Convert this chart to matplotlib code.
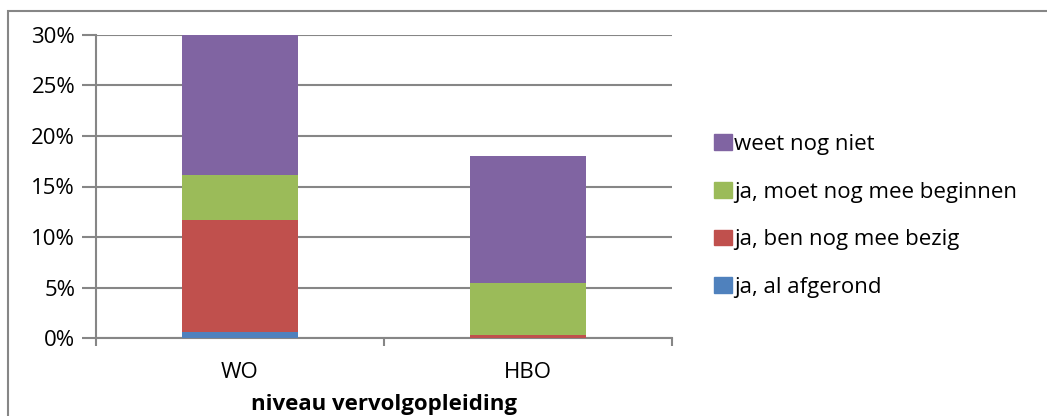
import numpy as np
import matplotlib
matplotlib.use("Agg")
import matplotlib.pyplot as plt
from matplotlib.patches import Rectangle

plt.rcParams['font.family'] = ['Open Sans', 'DejaVu Sans']

categories = ['WO', 'HBO']
series = ['ja, al afgerond', 'ja, ben nog mee bezig', 'ja, moet nog mee beginnen', 'weet nog niet']
afgerond = [0.65, 0.0]
bezig = [11.0, 0.3]
beginnen = [4.5, 5.2]
weet_niet = [13.85, 12.5]
kleuren = ['#4F81BD', '#C0504D', '#9BBB59', '#8064A2']

W, H = 1047, 416
fs = 16
fig = plt.figure(figsize=(W / 100, H / 100), dpi=100)
ax = fig.add_axes([96 / W, 1 - 338.3 / H, (672 - 96) / W, (338.3 - 34.7) / H])

x = np.arange(len(categories))
bottom = np.zeros(len(categories))
for vals, kleur, naam in zip([afgerond, bezig, beginnen, weet_niet], kleuren, series):
    ax.bar(x, vals, 0.403, bottom=bottom, color=kleur, label=naam, zorder=3)
    bottom = bottom + np.array(vals)

ax.set_xlim(-0.5, 1.5)
ax.set_ylim(0, 30)
ax.set_yticks(np.arange(0, 31, 5))
ax.set_yticklabels([f'{v}%' for v in range(0, 31, 5)], fontsize=fs)
ax.yaxis.grid(True, color='#868686', linewidth=1.5, zorder=0)
ax.set_xticks(x)
ax.set_xticklabels(categories, fontsize=fs)
ax.set_xticks([-0.5, 0.5, 1.5], minor=True)
ax.tick_params(axis='x', which='major', length=0, pad=17)
ax.tick_params(axis='x', which='minor', length=6, width=1.5, color='#868686')
ax.tick_params(axis='y', length=10, width=1.5, color='#868686', pad=5)
ax.set_xlabel('niveau vervolgopleiding', fontsize=fs, fontweight='bold', labelpad=8)

for s in ['top', 'right']:
    ax.spines[s].set_visible(False)
for s in ['left', 'bottom']:
    ax.spines[s].set_color('#868686')
    ax.spines[s].set_linewidth(1.5)

handles = [plt.Rectangle((0, 0), 1, 1, color=c) for c in kleuren][::-1]
fig.legend(handles, series[::-1], loc='center left', bbox_to_anchor=(694 / W, 1 - 216 / H),
           frameon=False, fontsize=fs, handlelength=0.8, handleheight=0.72,
           handletextpad=0.12, labelspacing=1.2)

fig.patches.append(Rectangle((7.5 / W, -0.1), 1.2, 1 - 10.5 / H + 0.1, transform=fig.transFigure,
                             fill=False, edgecolor='#868686', linewidth=1.5))

fig.savefig('out.png', dpi=100)
